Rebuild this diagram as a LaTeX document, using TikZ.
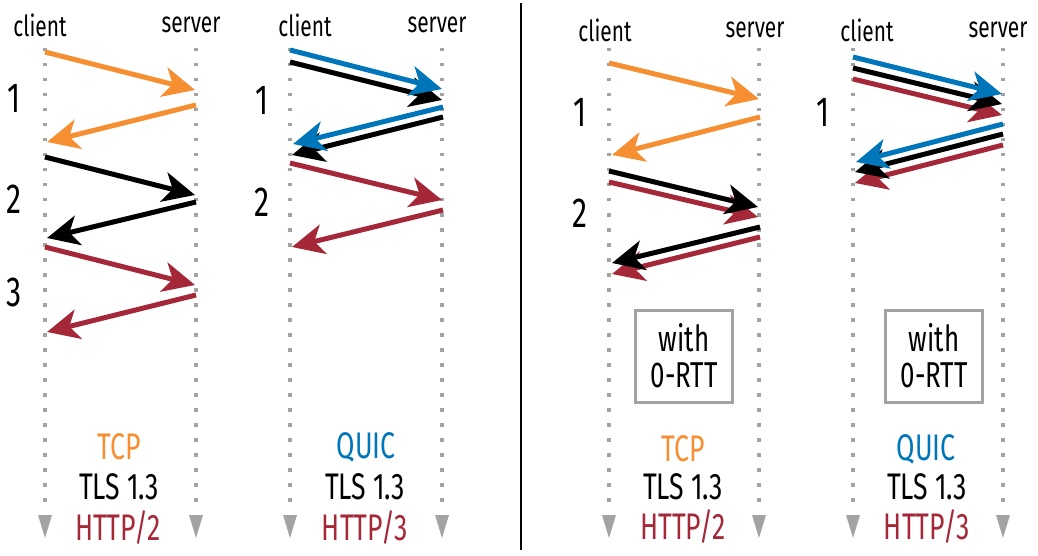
\documentclass[tikz,border=0pt]{standalone}
\usepackage{fontspec}
\setmainfont{Fira Sans}[FakeStretch=0.72]
\usetikzlibrary{arrows.meta}
\definecolor{qorange}{HTML}{F68E32}
\definecolor{qblue}{HTML}{0076BA}
\definecolor{qred}{HTML}{A42838}
\definecolor{qgray}{HTML}{A3A3A3}
\begin{document}
\begin{tikzpicture}[x=1pt,y=-1pt,
  msg/.style={line width=5pt,-{Stealth[length=32pt,width=30pt,inset=9pt]}},
  life/.style={draw=qgray,line width=3.5pt,dash pattern=on 3.5pt off 11.5pt},
  hdr/.style={inner sep=0pt,font=\fontsize{29}{32}\selectfont},
  num/.style={inner sep=0pt,font=\fontsize{42}{44}\selectfont},
  proto/.style={inner sep=0pt,font=\fontsize{37}{40}\selectfont},
  rttbox/.style={draw=qgray,line width=3pt,minimum width=97pt,minimum height=92pt,
    align=center,inner sep=0pt,font=\fontsize{36}{36}\selectfont}]
\useasboundingbox (0,0) rectangle (1038,556);
% divider
\coordinate (dtop) at (521,3);
\coordinate (dbot) at (521,550);
\draw[line width=2.2pt] (dtop) -- (dbot);
% lifelines
\foreach \x [count=\i] in {45,196,290,442,609,759,853,1003}{
  \coordinate (L\i top) at (\x,48);
  \coordinate (L\i bot) at (\x,505);
  \draw[life] (L\i top) -- (L\i bot);
  \fill[qgray] (\x-7,515) -- (\x+7,515) -- (\x,538) -- cycle;
}
% headers
\node[hdr] (c1) at (40,25) {client};  \node[hdr] (s1) at (191,25) {server};
\node[hdr] (c2) at (305,25) {client}; \node[hdr] (s2) at (437,25) {server};
\node[hdr] (c3) at (605,30) {client}; \node[hdr] (s3) at (755,30) {server};
\node[hdr] (c4) at (867,30) {client}; \node[hdr] (s4) at (998,30) {server};
% round numbers
\node[num] (n11) at (14,98) {1};
\node[num] (n12) at (14,199) {2};
\node[num] (n13) at (14,292) {3};
\node[num] (n21) at (262,100) {1};
\node[num] (n22) at (262,202) {2};
\node[num] (n31) at (580,112) {1};
\node[num] (n32) at (580,213) {2};
\node[num] (n41) at (823,112) {1};
% messages
\foreach \c/\xa/\ya/\xb/\yb [count=\i] in {
  qorange/45/52/195/90, qorange/196/105/47/142,
  black/45/157/195/195, black/196/202/47/238,
  qred/45/247/195/285, qred/196/295/47/332,
  black/290/62/442/100, qblue/290/50/442/89,
  black/443/117/292/155, qblue/443/107/293/144,
  qred/290/163/442/200, qred/443/210/292/247,
  qorange/609/63/759/99, qorange/760/117/612/155,
  qred/609/182/758/217, black/609/171/758/207,
  qred/760/237/612/274, black/760/227/612/263,
  qred/853/79/1002/115, black/853/68/1002/104, qblue/853/57/1002/94,
  qred/1003/145/855/183, black/1003/134/855/172, qblue/1003/124/856/162}{
  \coordinate (m\i a) at (\xa,\ya);
  \coordinate (m\i b) at (\xb,\yb);
  \draw[msg,color=\c] (m\i a) -- (m\i b);
}
% 0-RTT boxes
\node[rttbox] (b1) at (684,356) {with\\0-RTT};
\node[rttbox] (b2) at (934,356) {with\\0-RTT};
% protocol labels
\node[proto,text=qorange] (p1a) at (119,447) {TCP};
\node[proto] (p1b) at (119,487) {TLS 1.3};
\node[proto,text=qred] (p1c) at (118,527) {HTTP/2};
\node[proto,text=qblue] (p2a) at (366,447) {QUIC};
\node[proto] (p2b) at (365,487) {TLS 1.3};
\node[proto,text=qred] (p2c) at (365,527) {HTTP/3};
\node[proto,text=qorange] (p3a) at (683,449) {TCP};
\node[proto] (p3b) at (683,487) {TLS 1.3};
\node[proto,text=qred] (p3c) at (683,526) {HTTP/2};
\node[proto,text=qblue] (p4a) at (926,449) {QUIC};
\node[proto] (p4b) at (927,487) {TLS 1.3};
\node[proto,text=qred] (p4c) at (927,526) {HTTP/3};
\end{tikzpicture}
\end{document}
